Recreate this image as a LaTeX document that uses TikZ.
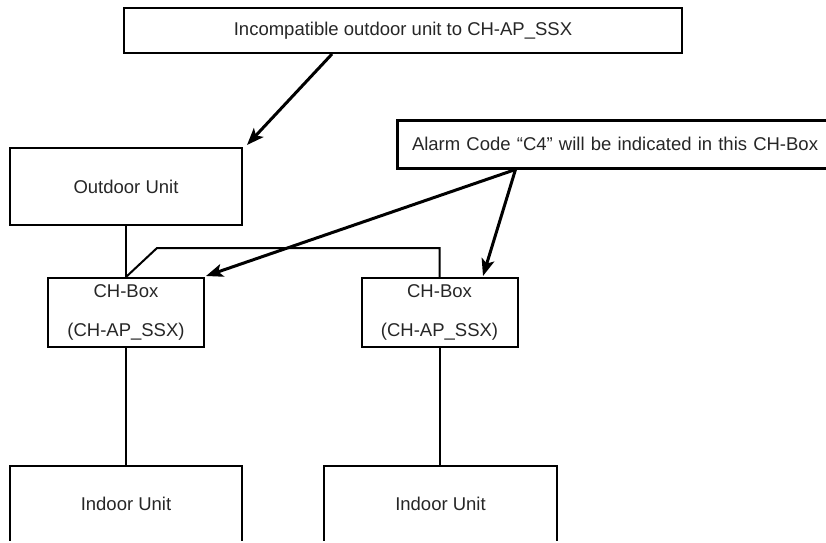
\documentclass[tikz,border=0pt]{standalone}
\usepackage{fontspec}
\setmainfont{Liberation Sans}
\usetikzlibrary{arrows.meta,calc}

\begin{document}
\begin{tikzpicture}[x=1pt,y=-1pt,>={Stealth[length=17pt,width=13pt,inset=4pt]},font=\fontsize{18.5}{22}\selectfont,line width=2pt]
\tikzstyle{u}=[draw,rectangle,inner sep=0pt,text=black!85]
\tikzstyle{note}=[draw,rectangle,inner sep=0pt,text=black!85]
\tikzstyle{lead}=[->,line width=3pt]
\useasboundingbox (0,0) rectangle (826,542);
\clip (0,0) rectangle (826,540.8);
% remarks
\node[note,minimum width=558pt,minimum height=45pt] (inc) at (403,30.5) {Incompatible outdoor unit to CH-AP\_SSX};
\node[note,line width=3pt,minimum height=48pt,text width=413pt,align=left,inner xsep=15pt] (alarm) at (618.5,144) {Alarm Code “C4” will be indicated in this CH-Box};
% units
\node[u,minimum width=232pt,minimum height=77pt] (out) at (126,186.5) {Outdoor Unit};
\foreach \n/\x/\ix/\iw in {1/126/126/232,2/439.5/440.5/233} {
 \node[u,minimum width=156pt,minimum height=69pt,align=center] (ch\n) at (\x,312.5) {CH-Box\\[17pt](CH-AP\_SSX)};
 \node[u,minimum width=\iw pt,minimum height=76pt] (in\n) at (\ix,504) {Indoor Unit};
 \draw (ch\n.south) -- (ch\n.south |- in\n.north);
}
\draw (out.south) -- (ch1.north);
\draw (ch1.north) -- ++(31,-29) -| (ch2.north);
% leaders
\draw[lead] ($(inc.south west)+(209,0)$) -- ($(out.north east)+(4,-2)$);
\draw[lead] ($(alarm.south west)+(120,0)$) -- ($(ch1.north east)+(1,-1)$);
\draw[lead] ($(alarm.south west)+(120,0)$) -- ($(ch2.north)+(43.5,-1)$);
\end{tikzpicture}
\end{document}
